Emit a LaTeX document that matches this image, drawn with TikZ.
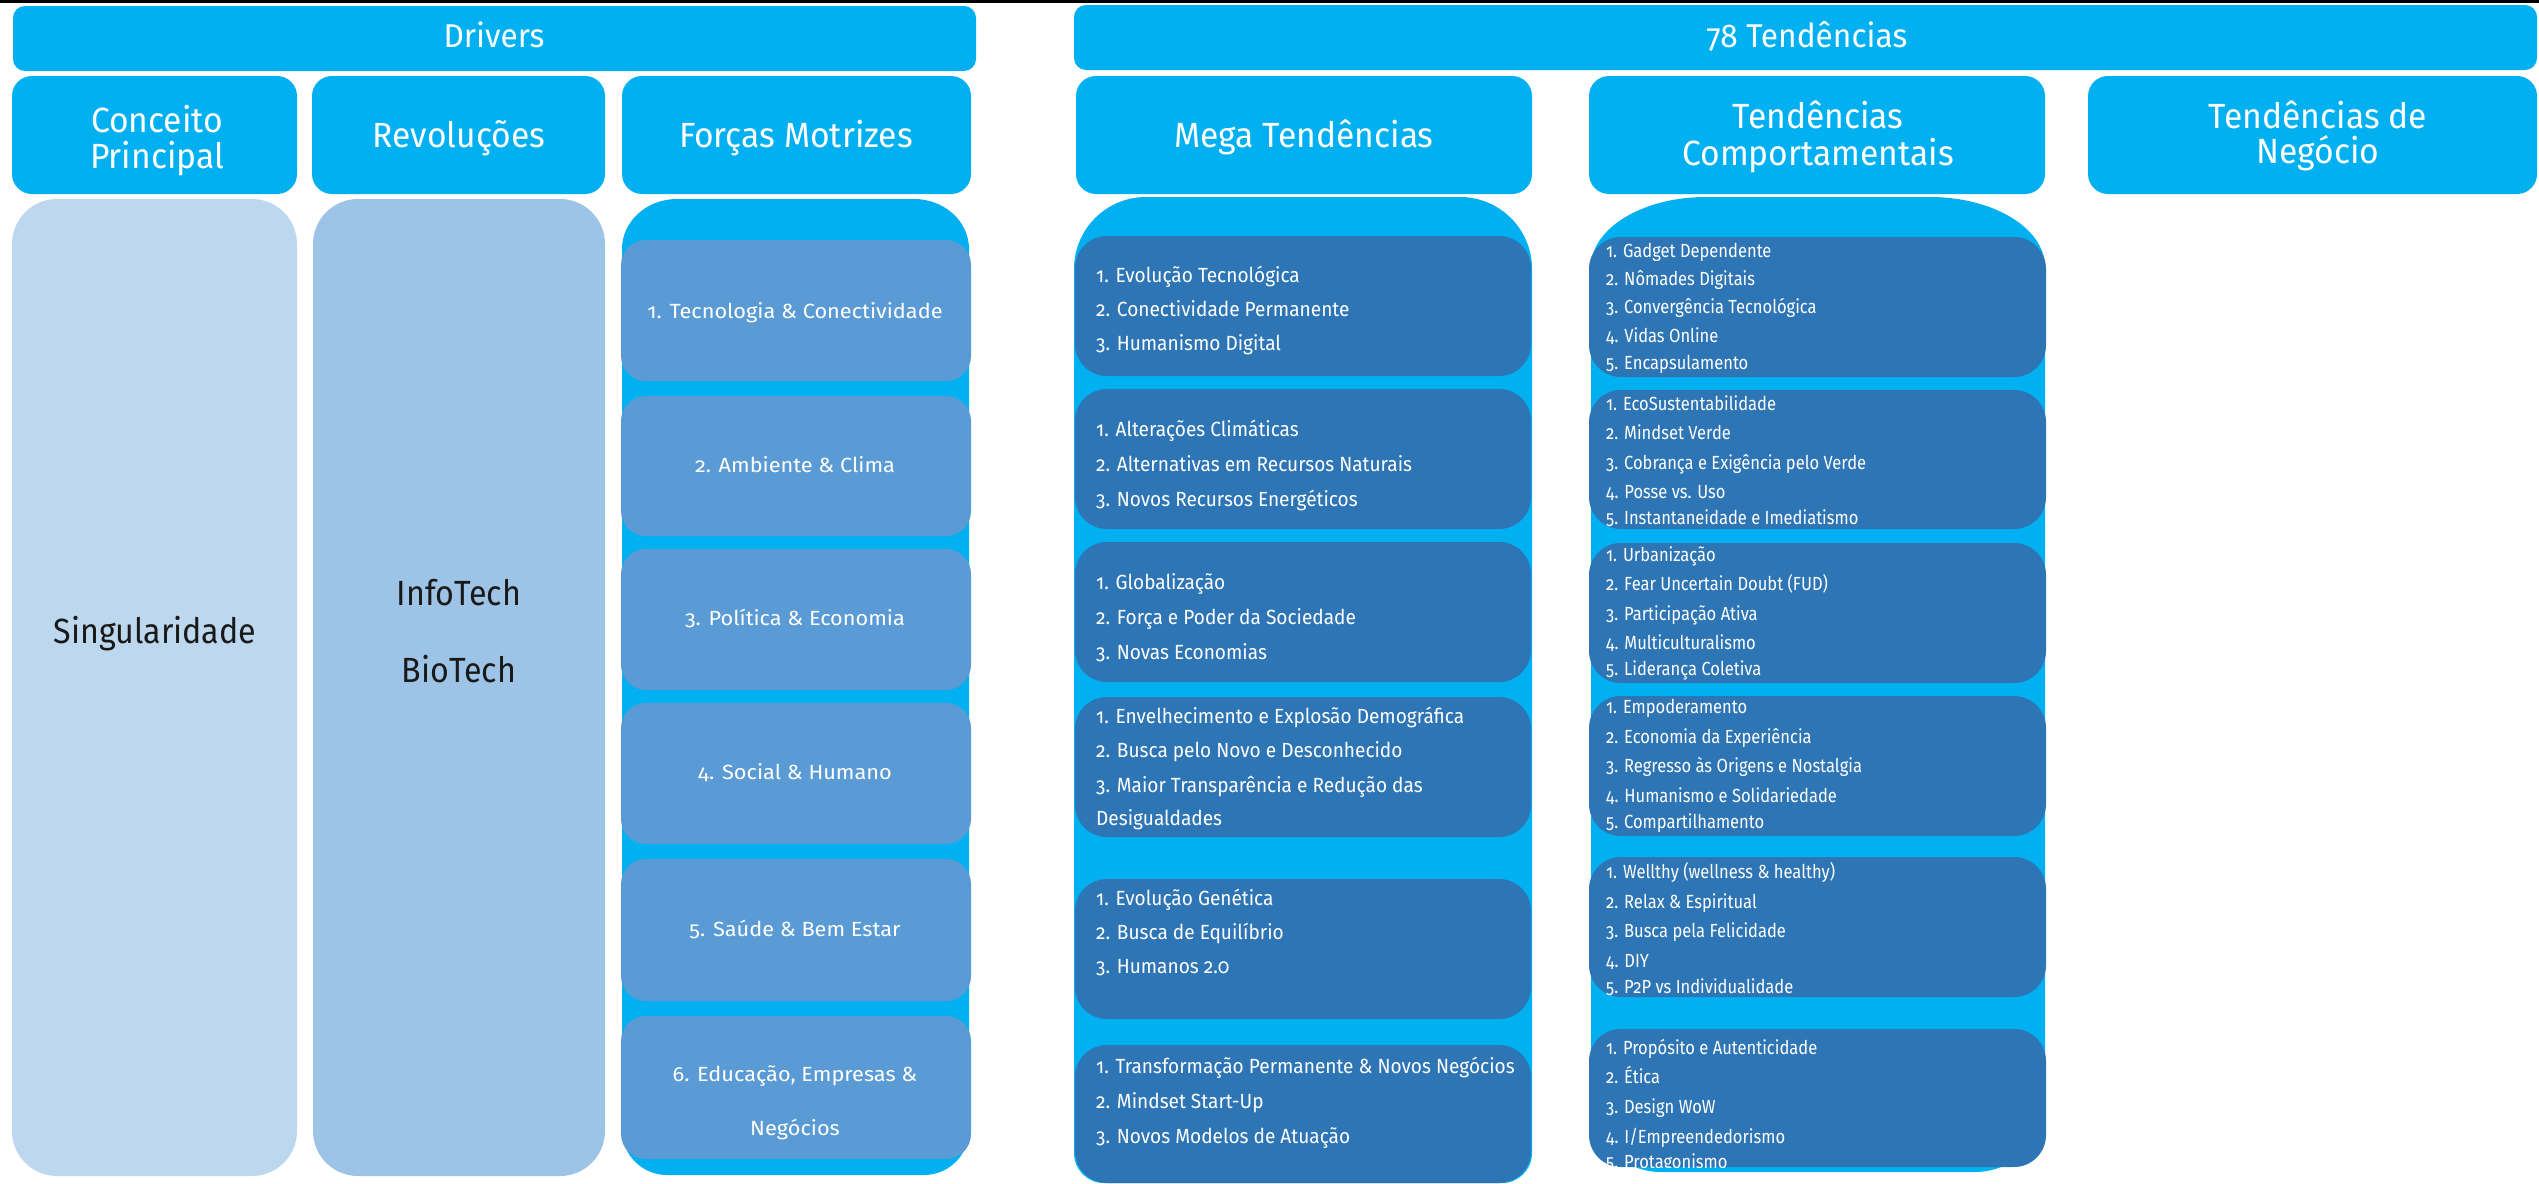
\documentclass[tikz,border=0pt]{standalone}
\usepackage{fontspec}
\setmainfont{Fira Sans}[Numbers=OldStyle]
\newfontfamily\hfont{Fira Sans}[Numbers=OldStyle,FakeStretch=0.96]
\newfontfamily\bfontx{Fira Sans}[Numbers=OldStyle,FakeStretch=0.92]
\newfontfamily\mfont{Fira Sans}[Numbers=OldStyle,FakeStretch=0.93]
\newfontfamily\cfont{Fira Sans}[Numbers=OldStyle,FakeStretch=0.87]
\newfontfamily\ffont{Fira Sans}[Numbers=OldStyle,FakeStretch=1.06]
\definecolor{cyanc}{HTML}{00B0F0}
\definecolor{darkb}{HTML}{2E75B6}
\definecolor{midb}{HTML}{5B9BD5}
\definecolor{lightb}{HTML}{BDD7EE}
\definecolor{lightbb}{HTML}{9DC3E6}
\newcommand\rbox[6]{%
  \pgfmathsetmacro\bw{#5-#3}\pgfmathsetmacro\bh{#6-#4}%
  \pgfmathsetmacro\bcx{(#3+#5)/2}\pgfmathsetmacro\bcy{(#4+#6)/2}%
  \node[#2, minimum width=\bw pt, minimum height=\bh pt] (#1) at (\bcx,\bcy) {};}
\newcommand\cybody[7]{%
  \fill[cyanc] (#1,#4-#7) -- (#1,#2+#6)
    arc[start angle=180,end angle=90,x radius=#5pt,y radius=#6pt] -- (#3-#5,#2)
    arc[start angle=90,end angle=0,x radius=#5pt,y radius=#6pt] -- (#3,#4-#7)
    arc[start angle=0,end angle=-90,radius=#7pt] -- (#1+#7,#4)
    arc[start angle=270,end angle=180,radius=#7pt] -- cycle;}
\begin{document}
\begin{tikzpicture}[x=1pt,y=-1pt,
  bx/.style={rectangle,inner sep=0pt,outer sep=0pt,draw=none},
  topbox/.style={bx,fill=cyanc,rounded corners=12pt},
  hdrbox/.style={bx,fill=cyanc,rounded corners=20pt},
  bodybox/.style={bx,rounded corners=45pt},
  fbox/.style={bx,fill=midb,rounded corners=25pt},
  dbox/.style={bx,fill=darkb,rounded corners=32pt},
  tt/.style={inner sep=0pt,anchor=base,text=white,font=\hfont\fontsize{33}{40}\selectfont},
  ht/.style={inner sep=0pt,anchor=base,text=white,font=\hfont\fontsize{35}{40}\selectfont},
  bt/.style={inner sep=0pt,anchor=base,text=black!90,font=\bfontx\fontsize{35}{40}\selectfont},
  ft/.style={inner sep=0pt,anchor=base,text=white,font=\ffont\fontsize{20.5}{24}\selectfont},
  mt/.style={inner sep=0pt,anchor=base west,text=white,font=\mfont\fontsize{20.5}{24}\selectfont},
  ct/.style={inner sep=0pt,anchor=base west,text=white,font=\cfont\fontsize{19}{22}\selectfont},
]
\useasboundingbox (0,0) rectangle (2539,1183);
\fill[black] (0,0) rectangle (2539,3);

% row 1
\rbox{drivers}{topbox}{13}{6}{976}{71}
\node[tt] (tdrivers) at (494,47) {Drivers};
\rbox{tend}{topbox}{1074}{5}{2537}{70}
\node[tt] (ttend) at (1807,47) {78 Tendências};

% row 2
\rbox{conc}{hdrbox}{12}{76}{297}{194}
\node[ht] (tconc1) at (157,132) {Conceito};
\node[ht] (tconc2) at (157,168) {Principal};
\rbox{revo}{hdrbox}{312}{76}{605}{194}
\node[ht] (trevo) at (459,147) {Revoluções};
\rbox{forc}{hdrbox}{622}{76}{971}{194}
\node[ht] (tforc) at (796,147) {Forças Motrizes};
\rbox{mega}{hdrbox}{1076}{76}{1532}{194}
\node[ht] (tmega) at (1304,147) {Mega Tendências};
\rbox{comp}{hdrbox}{1589}{76}{2045}{194}
\node[ht] (tcomp1) at (1818,128) {Tendências};
\node[ht] (tcomp2) at (1818,165) {Comportamentais};
\rbox{nego}{hdrbox}{2088}{76}{2537}{194}
\node[ht] (tnego1) at (2318,128) {Tendências de};
\node[ht] (tnego2) at (2318,163) {Negócio};

% row 3 : left columns
\rbox{concb}{bodybox,fill=lightb}{12}{199}{297}{1176}
\node[bt] (tsing) at (155,643) {Singularidade};
\rbox{revob}{bodybox,fill=lightbb}{313}{199}{605}{1176}
\node[bt] (tinfo) at (459,605) {InfoTech};
\node[bt] (tbio) at (459,682) {BioTech};

% Forças Motrizes
\cybody{622}{199}{969}{1175}{55}{50}{45}
\rbox{f1}{fbox}{621}{240}{971}{381}
\rbox{f2}{fbox}{621}{396}{971}{536}
\rbox{f3}{fbox}{621}{549}{971}{690}
\rbox{f4}{fbox}{621}{703}{971}{844}
\rbox{f5}{fbox}{621}{859}{971}{1001}
\rbox{f6}{fbox}{621}{1016}{971}{1159}
\node[ft] (tf1) at (795,318) {1. Tecnologia \& Conectividade};
\node[ft] (tf2) at (795,472) {2. Ambiente \& Clima};
\node[ft] (tf3) at (795,625) {3. Política \& Economia};
\node[ft] (tf4) at (795,779) {4. Social \& Humano};
\node[ft] (tf5) at (795,936) {5. Saúde \& Bem Estar};
\node[ft] (tf6a) at (795,1081) {6. Educação, Empresas \&};
\node[ft] (tf6b) at (795,1135) {Negócios};

% Mega Tendências
\cybody{1074}{197}{1532}{1183}{72}{72}{30}
\rbox{m1}{dbox}{1075}{236}{1531}{376}
\rbox{m2}{dbox}{1075}{389}{1531}{529}
\rbox{m3}{dbox}{1075}{542}{1531}{682}
\rbox{m4}{dbox}{1075}{697}{1531}{837}
\rbox{m5}{dbox}{1075}{879}{1531}{1019}
\rbox{m6}{dbox}{1075}{1045}{1531}{1183}
\foreach \y/\t [count=\i] in {282/{1. Evolução Tecnológica},316/{2. Conectividade Permanente},350/{3. Humanismo Digital}}
  \node[mt] (ma-\i) at (1096,\y) {\t};
\foreach \y/\t [count=\i] in {436/{1. Alterações Climáticas},471/{2. Alternativas em Recursos Naturais},506/{3. Novos Recursos Energéticos}}
  \node[mt] (mb-\i) at (1096,\y) {\t};
\foreach \y/\t [count=\i] in {589/{1. Globalização},624/{2. Força e Poder da Sociedade},659/{3. Novas Economias}}
  \node[mt] (mc-\i) at (1096,\y) {\t};
\foreach \y/\t [count=\i] in {723/{1. Envelhecimento e Explosão Demográfica},757/{2. Busca pelo Novo e Desconhecido},792/{3. Maior Transparência e Redução das},825/{Desigualdades}}
  \node[mt] (md-\i) at (1096,\y) {\t};
\foreach \y/\t [count=\i] in {905/{1. Evolução Genética},939/{2. Busca de Equilíbrio},973/{3. Humanos 2.0}}
  \node[mt] (me-\i) at (1096,\y) {\t};
\foreach \y/\t [count=\i] in {1073/{1. Transformação Permanente \& Novos Negócios},1108/{2. Mindset Start-Up},1143/{3. Novos Modelos de Atuação}}
  \node[mt] (mf-\i) at (1096,\y) {\t};

% Tendências Comportamentais
\cybody{1591}{197}{2045}{1172}{115}{70}{70}
\rbox{c1}{dbox}{1589}{237}{2046}{377}
\rbox{c2}{dbox}{1589}{390}{2046}{529}
\rbox{c3}{dbox}{1589}{543}{2046}{683}
\rbox{c4}{dbox}{1589}{696}{2046}{836}
\rbox{c5}{dbox}{1589}{857}{2046}{997}
\rbox{c6}{dbox}{1589}{1029}{2046}{1167}
\foreach \y/\t [count=\i] in {257/{1. Gadget Dependente},285/{2. Nômades Digitais},313/{3. Convergência Tecnológica},342/{4. Vidas Online},369/{5. Encapsulamento}}
  \node[ct] (ca-\i) at (1606,\y) {\t};
\foreach \y/\t [count=\i] in {410/{1. EcoSustentabilidade},439/{2. Mindset Verde},469/{3. Cobrança e Exigência pelo Verde},498/{4. Posse vs. Uso},524/{5. Instantaneidade e Imediatismo}}
  \node[ct] (cb-\i) at (1606,\y) {\t};
\foreach \y/\t [count=\i] in {561/{1. Urbanização},590/{2. Fear Uncertain Doubt (FUD)},620/{3. Participação Ativa},649/{4. Multiculturalismo},675/{5. Liderança Coletiva}}
  \node[ct] (cc-\i) at (1606,\y) {\t};
\foreach \y/\t [count=\i] in {713/{1. Empoderamento},743/{2. Economia da Experiência},772/{3. Regresso às Origens e Nostalgia},802/{4. Humanismo e Solidariedade},828/{5. Compartilhamento}}
  \node[ct] (cd-\i) at (1606,\y) {\t};
\foreach \y/\t [count=\i] in {878/{1. Wellthy (wellness \& healthy)},908/{2. Relax \& Espiritual},937/{3. Busca pela Felicidade},967/{4. DIY},993/{5. P2P vs Individualidade}}
  \node[ct] (ce-\i) at (1606,\y) {\t};
\foreach \y/\t [count=\i] in {1054/{1. Propósito e Autenticidade},1083/{2. Ética},1113/{3. Design WoW},1143/{4. I/Empreendedorismo}}
  \node[ct] (cf-\i) at (1606,\y) {\t};
\begin{scope}
  \clip[rounded corners=32pt] (1589,1029) rectangle (2046,1167);
  \node[ct] (cf-5) at (1606,1168) {5. Protagonismo};
\end{scope}
\end{tikzpicture}
\end{document}
